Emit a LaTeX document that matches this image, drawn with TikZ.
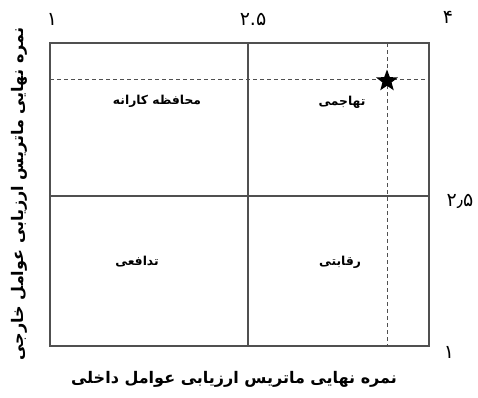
\documentclass[tikz,border=0pt]{standalone}
\usepackage{fontspec}
\newfontfamily\arabicfont[Script=Arabic]{DejaVu Sans}
\TeXXeTstate=1
\usetikzlibrary{shapes.geometric}
\definecolor{linec}{HTML}{505050}
\tikzset{
  frame/.style={draw=linec, line width=1.2pt},
  guide/.style={draw=linec, line width=0.9pt, dash pattern=on 4pt off 3pt},
  quad/.style={font=\arabicfont\bfseries\fontsize{12.3}{14}\selectfont, inner sep=0pt},
  tick/.style={font=\arabicfont\fontsize{19}{21}\selectfont, inner sep=0pt},
  axis/.style={font=\arabicfont\bfseries\fontsize{16}{18}\selectfont, inner sep=0pt},
}
\begin{document}
\begin{tikzpicture}[x=1pt,y=-1pt]
\useasboundingbox (0,0) rectangle (478,397);
% frame
\coordinate (tl) at (50,43);
\coordinate (br) at (429,346);
\draw[frame] (tl) rectangle (br);
\coordinate (mt) at (248,43);
\coordinate (mb) at (248,346);
\coordinate (ml) at (50,196);
\coordinate (mr) at (429,196);
\draw[frame] (mt) -- (mb);
\draw[frame] (ml) -- (mr);
% guides
\coordinate (gl) at (50,79);
\coordinate (gr) at (429,79);
\coordinate (gt) at (387,43);
\coordinate (gb) at (387,346);
\draw[guide] (gl) -- (gr);
\draw[guide] (gt) -- (gb);
\node[star, star points=5, star point ratio=2.4, fill=black, minimum size=23pt, inner sep=0pt] (st) at (387,81) {};
% quadrant labels
\node[quad] (q1) at (157,101) {\beginR محافظه کارانه\endR};
\node[quad] (q2) at (342,102) {\beginR تهاجمی\endR};
\node[quad] (q3) at (137,262) {\beginR تدافعی\endR};
\node[quad] (q4) at (340,262) {\beginR رقابتی\endR};
% ticks
\node[tick] (t1) at (52,19) {۱};
\node[tick] (t2) at (253,19) {۲.۵};
\node[tick] (t3) at (448,17) {۴};
\node[tick] (t4) at (460,201) {۲٫۵};
\node[tick] (t5) at (449,352) {۱};
% axes titles
\node[axis] (ax) at (234,379) {\beginR نمره نهایی ماتریس ارزیابی عوامل داخلی\endR};
\node[axis, rotate=90] (ay) at (19,194) {\beginR نمره نهایی ماتریس ارزیابی عوامل خارجی\endR};
\end{tikzpicture}
\end{document}
